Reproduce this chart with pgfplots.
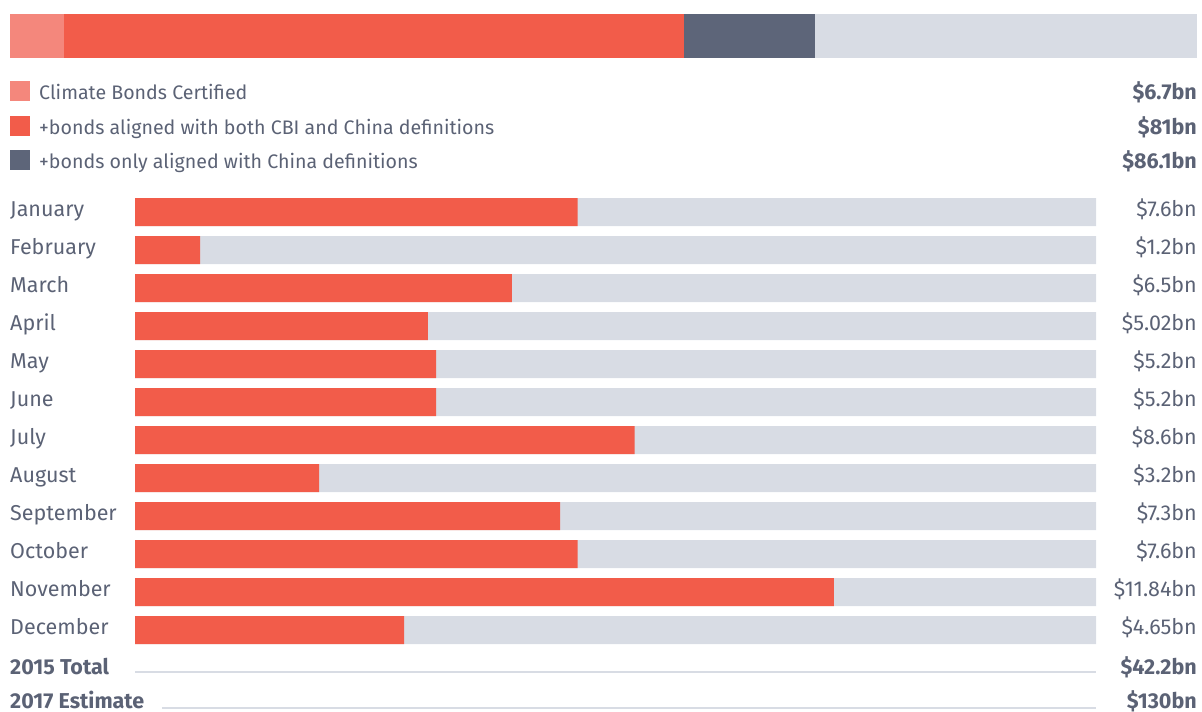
\documentclass[border=0pt]{standalone}
\usepackage{pgfplots}
\pgfplotsset{compat=1.18}
\usepackage{fontspec}
\setmainfont{Fira Sans}
\definecolor{cert}{HTML}{F4877C}
\definecolor{both}{HTML}{F25C4A}
\definecolor{china}{HTML}{5D6579}
\definecolor{lgray}{HTML}{D8DCE4}
\definecolor{txt}{HTML}{5B6275}
\begin{document}
\begin{tikzpicture}[x=1pt,y=1pt]
\useasboundingbox (0,0) rectangle (1202,-712);
% top stacked bar
\begin{axis}[at={(10pt,-14pt)}, anchor=north west, width=1187pt, height=44pt,
  scale only axis, xmin=0, xmax=142.67, ymin=0.5, ymax=1.5, hide axis,
  xbar stacked, bar width=44pt]
\addplot[fill=cert, draw=none] coordinates {(6.5,1)};
\addplot[fill=both, draw=none] coordinates {(74.5,1)};
\addplot[fill=china, draw=none] coordinates {(15.75,1)};
\addplot[fill=lgray, draw=none] coordinates {(45.92,1)};
\end{axis}
% monthly bars
\begin{axis}[at={(135pt,0pt)}, anchor=north west, width=961pt, height=712pt,
  scale only axis, xmin=0, xmax=16.5, ymin=0, ymax=712, y dir=reverse,
  hide axis, clip=false, xbar, bar width=28pt, bar shift=0pt]
\addplot[fill=lgray, draw=none] coordinates {
(16.5,212) (16.5,250) (16.5,288) (16.5,326) (16.5,364) (16.5,402)
(16.5,440) (16.5,478) (16.5,516) (16.5,554) (16.5,592) (16.5,630)};
\addplot[fill=both, draw=none] coordinates {
(7.6,212) (1.12,250) (6.47,288) (5.03,326) (5.17,364) (5.17,402)
(8.58,440) (3.16,478) (7.3,516) (7.6,554) (12.0,592) (4.62,630)};
\addplot[lgray, line width=2.5pt, sharp plot, forget plot] coordinates {(0,672) (16.5,672)};
\addplot[lgray, line width=2.5pt, sharp plot, forget plot] coordinates {(0.46,708) (16.5,708)};
\end{axis}
% legend
\fill[cert] (10,-81) rectangle (30,-101);
\fill[both] (10,-116) rectangle (30,-136);
\fill[china] (10,-150) rectangle (30,-170);
\begin{scope}[every node/.style={text=txt, inner sep=0pt, font=\fontsize{21.5}{24}\selectfont}]
\node[anchor=base west, font=\fontsize{19.6}{22}\selectfont] at (39,-99) {Climate Bonds Certified};
\node[anchor=base west, font=\fontsize{19.6}{22}\selectfont] at (39,-134) {+bonds aligned with both CBI and China definitions};
\node[anchor=base west, font=\fontsize{19.6}{22}\selectfont] at (39,-168) {+bonds only aligned with China definitions};
\node[anchor=base east, font=\fontsize{21.5}{24}\selectfont\bfseries] at (1197,-99) {\$6.7bn};
\node[anchor=base east, font=\fontsize{21.5}{24}\selectfont\bfseries] at (1197,-134) {\$81bn};
\node[anchor=base east, font=\fontsize{21.5}{24}\selectfont\bfseries] at (1197,-168) {\$86.1bn};
\foreach \m/\v [count=\i from 0] in {January/7.6bn,February/1.2bn,March/6.5bn,April/5.02bn,May/5.2bn,June/5.2bn,July/8.6bn,August/3.2bn,September/7.3bn,October/7.6bn,November/11.84bn,December/4.65bn}{
  \node[anchor=base west] at (10,{-216-38*\i}) {\m};
  \node[anchor=base east] at (1197,{-216-38*\i}) {\$\v};
}
\node[anchor=base west, font=\fontsize{21.5}{24}\selectfont\bfseries] at (10,-674) {2015 Total};
\node[anchor=base east, font=\fontsize{21.5}{24}\selectfont\bfseries] at (1197,-674) {\$42.2bn};
\node[anchor=base west, font=\fontsize{21.5}{24}\selectfont\bfseries] at (10,-708) {2017 Estimate};
\node[anchor=base east, font=\fontsize{21.5}{24}\selectfont\bfseries] at (1197,-708) {\$130bn};
\end{scope}
\end{tikzpicture}
\end{document}
